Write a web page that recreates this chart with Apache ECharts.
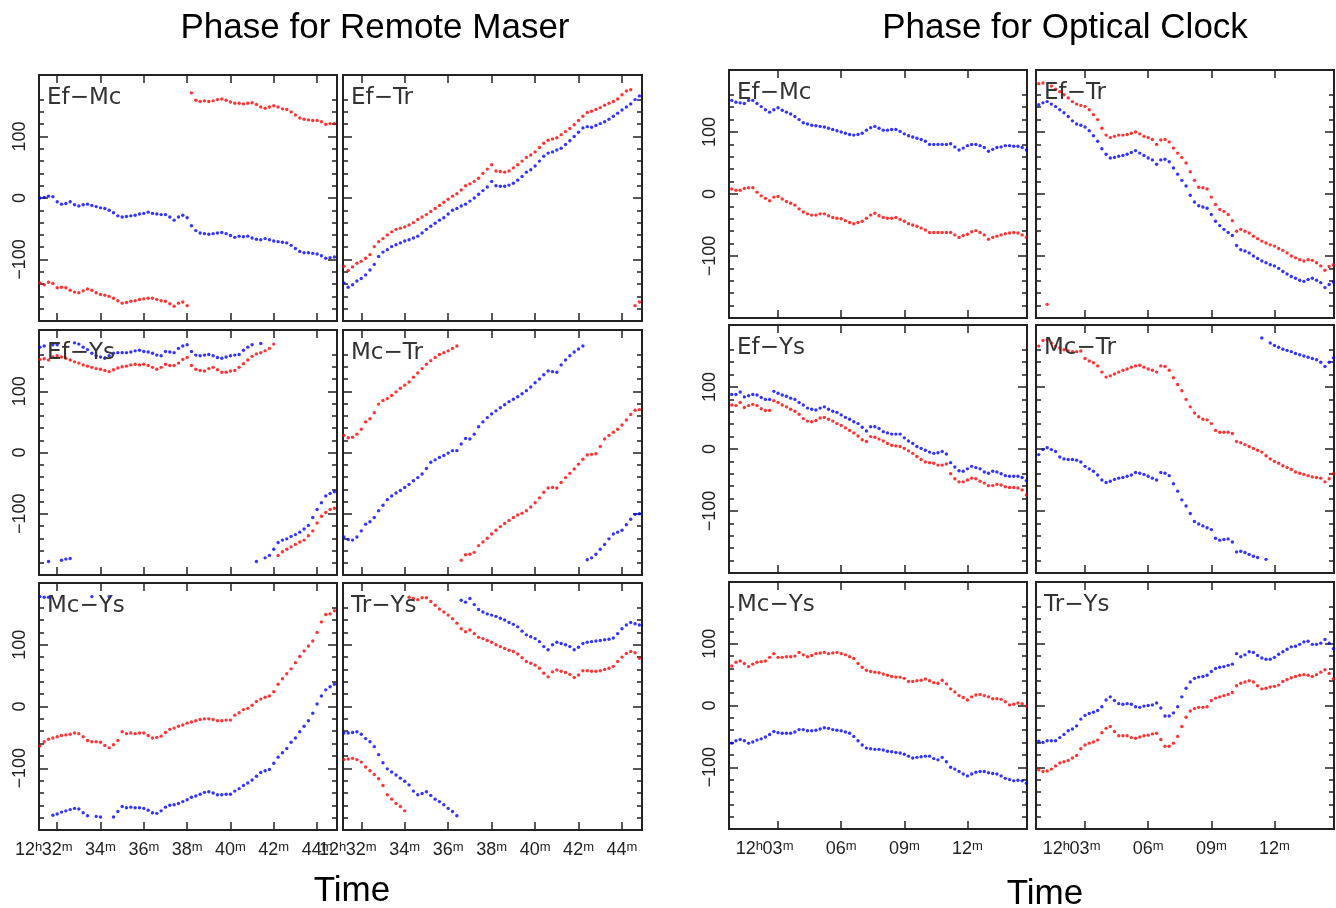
<!DOCTYPE html>
<html><head><meta charset="utf-8">
<script src="https://cdn.jsdelivr.net/npm/echarts@6/dist/echarts.min.js"></script>
<style>html,body{margin:0;padding:0;background:#fff}#c{width:1336px;height:908px}</style>
</head><body><div id="c"></div>
<script>
// ---------- time samples (minutes after 12h) ----------
const TIME_MASER = [31.2,31.4,31.6,31.8,32.0,32.2,32.4,32.6,32.8,33.0,33.2,33.4,33.6,33.8,34.0,
 34.2,34.4,34.6,34.8,35.0,35.2,35.4,35.6,35.8,36.0,36.2,36.4,36.6,36.8,37.0,
 37.2,37.4,37.6,37.8,38.0,38.2,38.4,38.6,38.8,39.0,39.2,39.4,39.6,39.8,40.0,
 40.2,40.4,40.6,40.8,41.0,41.2,41.4,41.6,41.8,42.0,42.2,42.4,42.6,42.8,43.0,
 43.2,43.4,43.6,43.8,44.0,44.2,44.4,44.6,44.8];
const TIME_CLOCK = [0.8,1.0,1.2,1.4,1.6,1.8,2.0,2.2,2.4,2.6,2.8,3.0,3.2,3.4,3.6,
 3.8,4.0,4.2,4.4,4.6,4.8,5.0,5.2,5.4,5.6,5.8,6.0,6.2,6.4,6.6,
 6.8,7.0,7.2,7.4,7.6,7.8,8.0,8.2,8.4,8.6,8.8,9.0,9.2,9.4,9.6,
 9.8,10.0,10.2,10.4,10.6,10.8,11.0,11.2,11.4,11.6,11.8,12.0,12.2,12.4,12.6,
 12.8,13.0,13.2,13.4,13.6,13.8,14.0,14.2,14.4,14.6,14.8];

// ---------- tick values ----------
const TICKS_MASER = [32,34,36,38,40,42,44];
const TICKS_CLOCK = [3,6,9,12];
const Y_MAJOR = [-100,0,100];
const Y_MINOR = [-180,-160,-140,-120,-80,-60,-40,-20,20,40,60,80,120,140,160];

// ---------- Phase for Remote Maser (degrees) ----------
const maserEfMcRed = [-138,-141,-137,-139,-146,-145,-146,-150,-153,-154,-151,-148,-150,-154,-157,
 -158,-160,-163,-167,-171,-170,-168,-167,-165,-164,-163,-163,-165,-167,-168,
 -172,-176,-171,-169,-175,171,159,157,158,157,158,160,161,159,156,
 154,154,153,154,155,152,148,146,148,150,148,145,144,140,135,
 130,128,127,126,126,124,120,121,121];
const maserEfMcBlue = [0,1,3,2,-6,-10,-9,-6,-11,-13,-11,-10,-12,-14,-16,
 -17,-20,-24,-29,-31,-30,-29,-28,-26,-25,-23,-25,-26,-27,-27,
 -31,-36,-31,-28,-32,-45,-53,-57,-58,-59,-58,-57,-56,-58,-61,
 -64,-62,-63,-62,-65,-67,-68,-66,-68,-70,-71,-72,-73,-77,-82,
 -87,-89,-89,-90,-91,-94,-98,-97,-96];
const maserEfTrRed = [-111,-118,-112,-106,-103,-98,-92,-79,-71,-66,-60,-55,-51,-49,-47,
 -44,-40,-35,-31,-27,-22,-17,-12,-7,-2,3,7,13,20,23,
 27,32,40,47,54,44,43,42,44,49,54,60,66,70,75,
 82,89,94,96,98,103,108,113,119,126,133,139,141,144,147,
 151,154,157,161,168,174,176,-175,-169];
const maserEfTrBlue = [-138,-145,-141,-135,-131,-125,-117,-108,-95,-88,-84,-79,-76,-73,-70,
 -68,-65,-62,-57,-51,-46,-41,-36,-32,-26,-20,-17,-13,-10,-5,
 0,6,12,18,27,20,19,19,21,24,29,35,42,46,52,
 60,68,73,75,78,81,87,93,100,107,114,116,115,118,121,
 124,128,133,138,143,148,153,160,166];
const maserEfYsRed = [152,153,151,156,158,156,154,151,148,146,143,141,139,137,136,
 134,132,135,138,140,141,143,144,143,144,142,139,136,139,144,
 142,142,146,152,155,142,136,134,133,137,139,135,131,131,133,
 134,139,145,151,157,161,163,166,170,177,-168,-162,-158,-154,-150,
 -146,-143,-136,-128,-115,-104,-98,-93,-91];
const maserEfYsBlue = [172,174,-178,176,176,-176,-174,-173,179,177,172,168,162,158,156,
 154,158,162,163,163,163,164,166,167,165,164,162,159,158,165,
 164,163,170,174,176,165,159,158,159,160,158,155,154,156,158,
 159,160,167,172,176,-178,178,-172,-168,-158,-147,-143,-141,-137,-134,
 -130,-125,-119,-106,-93,-82,-71,-67,-64];
const maserMcTrRed = [28,24,25,30,38,50,55,65,79,85,88,93,99,105,110,
 115,123,130,137,144,150,155,160,163,166,170,174,-176,-167,-166,
 -163,-152,-146,-140,-133,-127,-121,-116,-111,-106,-102,-99,-95,-89,-82,
 -74,-65,-58,-57,-58,-49,-41,-34,-27,-19,-11,-4,-3,-2,10,
 22,28,33,38,45,53,62,69,70];
const maserMcTrBlue = [-138,-142,-143,-138,-128,-117,-113,-106,-95,-86,-77,-71,-66,-62,-57,
 -52,-46,-41,-35,-26,-16,-12,-8,-5,-1,3,3,14,23,22,
 30,42,50,57,63,68,73,78,83,87,91,96,101,107,114,
 120,127,133,132,131,143,151,158,164,169,174,-175,-172,-166,-158,
 -150,-141,-133,-130,-127,-118,-109,-101,-100];
const maserMcYsRed = [-64,-57,-53,-51,-49,-47,-46,-45,-43,-44,-49,-55,-57,-57,-58,
 -63,-67,-62,-55,-41,-44,-43,-44,-43,-43,-47,-51,-50,-48,-42,
 -37,-35,-32,-30,-27,-25,-23,-21,-20,-20,-21,-23,-23,-22,-22,
 -14,-10,-5,-3,2,8,12,15,17,24,36,45,53,61,71,
 81,90,98,106,120,137,149,150,155];
const maserMcYsBlue = [178,177,177,-176,-174,-171,-169,-167,-165,-166,-172,-177,178,-178,-179,
 null,178,-179,-170,-162,-164,-163,-164,-164,-165,-168,-172,-173,-169,-163,
 -160,-159,-157,-154,-151,-147,-145,-142,-139,-138,-140,-143,-143,-142,-142,
 -137,-133,-128,-124,-119,-113,-107,-104,-102,-92,-82,-75,-68,-58,-51,
 -41,-32,-23,-11,4,17,27,32,36];
const maserTrYsRed = [-86,-85,-84,-86,-90,-98,-104,-110,-117,-128,-143,-150,-157,-162,-169,
 177,175,173,176,176,170,164,158,153,148,142,135,126,121,124,
 118,112,110,107,104,100,97,94,91,89,85,79,73,70,67,
 62,54,48,56,59,57,55,52,47,51,58,58,57,57,58,
 60,62,65,73,80,86,89,87,78];
const maserTrYsBlue = [-43,-43,-42,-41,-45,-52,-57,-65,-78,-91,-101,-106,-111,-116,-121,
 -127,-137,-143,-141,-138,-144,-150,-154,-159,-165,-170,-177,172,169,175,
 165,157,153,150,148,146,143,140,136,133,129,122,116,113,110,
 105,97,92,100,104,102,100,97,92,96,102,104,105,106,107,
 108,109,111,118,126,132,136,134,132];

// ---------- Phase for Optical Clock (degrees) ----------
const clockEfMcRed = [8,6,6,9,10,10,3,-3,-7,-11,-5,-4,-8,-12,-15,
 -18,-24,-29,-32,-34,-34,-32,-32,-35,-38,-39,-40,-43,-46,-48,
 -46,-44,-39,-34,-31,-35,-38,-39,-39,-38,-41,-44,-48,-50,-52,
 -55,-58,-62,-62,-62,-62,-62,-62,-66,-70,-67,-65,-61,-59,-62,
 -66,-73,-70,-68,-66,-64,-63,-62,-63,-66,-70];
const clockEfMcBlue = [151,148,147,146,151,151,146,141,136,132,136,139,135,132,129,
 125,120,115,113,111,110,109,108,106,104,102,100,98,96,95,
 96,98,103,107,109,106,103,103,104,104,101,97,94,92,90,
 88,85,80,80,80,80,80,81,76,71,74,78,80,80,78,
 75,69,72,75,76,78,78,77,77,75,71];
const clockEfTrRed = [178,179,-178,174,169,165,160,155,149,145,143,141,136,128,120,
 106,95,91,93,95,95,96,98,100,97,93,91,88,80,87,
 88,84,74,66,59,50,36,22,11,10,8,-5,-17,-25,-28,
 -33,-43,-60,-57,-60,-63,-68,-72,-76,-79,-82,-84,-88,-91,-95,
 -100,-103,-106,-108,-106,-107,-111,-116,-123,-117,-114];
const clockEfTrBlue = [144,147,149,145,141,136,131,125,118,113,111,108,102,94,85,
 73,64,58,59,61,62,64,67,70,66,62,58,55,48,55,
 56,52,42,32,22,13,-2,-13,-19,-21,-23,-33,-44,-51,-57,
 -62,-67,-83,-90,-92,-95,-100,-104,-108,-111,-114,-116,-120,-125,-129,
 -133,-136,-139,-141,-138,-136,-139,-143,-151,-146,-142];
const clockEfYsRed = [71,70,75,67,70,72,70,65,62,62,78,75,71,68,64,
 61,56,49,45,44,46,50,51,48,45,41,38,34,30,26,
 21,15,12,20,19,16,13,9,6,5,4,1,-3,-7,-12,
 -17,-21,-22,-23,-26,-26,-24,-40,-48,-53,-53,-50,-47,-48,-52,
 -55,-59,-59,-57,-58,-61,-62,-62,-63,-66,-74];
const clockEfYsBlue = [88,88,92,84,86,88,87,83,80,80,93,90,87,85,82,
 80,75,71,66,64,63,66,68,64,61,59,55,51,48,44,
 41,35,29,36,36,33,28,26,24,24,24,18,13,9,4,
 1,-2,-5,-7,-6,-4,-8,-22,-29,-35,-36,-32,-28,-30,-32,
 -37,-39,-36,-37,-40,-43,-44,-44,-44,-46,-51];
const clockMcTrRed = [166,175,176,171,166,163,160,158,157,157,158,146,142,139,134,
 124,116,118,121,124,127,129,132,134,135,132,129,127,124,134,
 133,127,115,104,94,80,68,58,52,48,47,41,30,27,27,
 27,25,12,10,7,4,1,-2,-5,-11,-16,-20,-23,-27,-30,
 -33,-37,-39,-41,-43,-45,-46,-47,-53,-48,-40];
const clockMcTrBlue = [-9,-1,2,-1,-4,-13,-16,-17,-17,-18,-21,-28,-32,-36,-42,
 -50,-54,-52,-49,-47,-46,-44,-42,-38,-39,-41,-44,-47,-50,-38,
 -39,-43,-56,-68,-82,-92,-104,-117,-121,-124,-127,-130,-144,-147,-146,
 -145,-150,-166,-165,-167,-170,-173,-175,179,-178,171,167,164,161,159,
 157,154,152,150,148,146,144,140,133,140,147];
const clockMcYsRed = [64,70,72,68,63,67,70,71,72,78,84,78,78,79,79,
 80,86,82,79,81,84,85,86,84,85,86,84,82,79,76,
 68,62,57,55,54,53,51,49,47,46,46,44,39,39,40,
 41,43,40,37,36,41,35,27,22,16,13,9,14,17,18,
 16,14,11,11,10,6,1,2,4,3,-1];
const clockMcYsBlue = [-61,-57,-55,-57,-61,-59,-56,-54,-51,-47,-42,-44,-45,-45,-45,
 -43,-39,-39,-41,-41,-40,-38,-36,-37,-39,-40,-41,-43,-45,-50,
 -57,-64,-69,-70,-71,-71,-72,-74,-75,-76,-77,-79,-82,-85,-84,
 -83,-82,-82,-86,-88,-84,-91,-100,-103,-107,-111,-114,-111,-108,-107,
 -107,-109,-110,-111,-114,-118,-120,-122,-121,-122,-126];
const clockTrYsRed = [-104,-107,-106,-103,-98,-93,-91,-89,-85,-81,-70,-64,-61,-59,-56,
 -44,-37,-34,-42,-49,-49,-49,-52,-53,-51,-49,-48,-46,-45,-55,
 -66,-66,-61,-50,-34,-19,-9,-5,-3,-3,-2,8,12,14,16,
 18,21,32,36,38,40,38,32,27,28,30,31,33,39,42,
 45,47,49,50,49,47,50,54,58,52,43];
const clockTrYsBlue = [-58,-60,-57,-57,-57,-52,-47,-41,-38,-33,-22,-16,-13,-11,-8,
 -2,9,14,8,3,2,3,2,-2,-3,-1,0,1,4,-4,
 -17,-17,-12,-2,14,28,38,44,46,47,49,55,60,62,63,
 65,67,84,79,82,87,86,81,77,75,75,78,83,87,91,
 95,96,99,103,104,99,99,101,107,101,92];

// ---------- layout ----------
const LAYOUT = {
  maser: {lefts:[39,343], widths:[298,299], tops:[75,330,583], heights:[246,245,247],
          xmin:31.16, xmax:44.92, times:TIME_MASER, ticks:TICKS_MASER, first:32},
  clock: {lefts:[729,1036], widths:[298,298], tops:[70,325,582], heights:[248,248,247],
          xmin:0.67, xmax:14.83, times:TIME_CLOCK, ticks:TICKS_CLOCK, first:3}
};
const PANELS = [
  {g:'maser',r:0,c:0,name:'Ef\u2212Mc',red:maserEfMcRed,blue:maserEfMcBlue},
  {g:'maser',r:0,c:1,name:'Ef\u2212Tr',red:maserEfTrRed,blue:maserEfTrBlue},
  {g:'maser',r:1,c:0,name:'Ef\u2212Ys',red:maserEfYsRed,blue:maserEfYsBlue},
  {g:'maser',r:1,c:1,name:'Mc\u2212Tr',red:maserMcTrRed,blue:maserMcTrBlue},
  {g:'maser',r:2,c:0,name:'Mc\u2212Ys',red:maserMcYsRed,blue:maserMcYsBlue},
  {g:'maser',r:2,c:1,name:'Tr\u2212Ys',red:maserTrYsRed,blue:maserTrYsBlue},
  {g:'clock',r:0,c:0,name:'Ef\u2212Mc',red:clockEfMcRed,blue:clockEfMcBlue},
  {g:'clock',r:0,c:1,name:'Ef\u2212Tr',red:clockEfTrRed,blue:clockEfTrBlue},
  {g:'clock',r:1,c:0,name:'Ef\u2212Ys',red:clockEfYsRed,blue:clockEfYsBlue},
  {g:'clock',r:1,c:1,name:'Mc\u2212Tr',red:clockMcTrRed,blue:clockMcTrBlue},
  {g:'clock',r:2,c:0,name:'Mc\u2212Ys',red:clockMcYsRed,blue:clockMcYsBlue},
  {g:'clock',r:2,c:1,name:'Tr\u2212Ys',red:clockTrYsRed,blue:clockTrYsBlue}
];

const INK = '#222';
const TICKFONT = '"Liberation Sans", Arial, sans-serif';
const pad2 = v => (v < 10 ? '0' : '') + v;
const rich = {s: {fontSize: 13, verticalAlign: 'top', fontFamily: TICKFONT, color: INK}};
const labelBase = {margin: 11, color: INK, fontSize: 18, fontFamily: TICKFONT, rich: rich,
  hideOverlap: false, showMinLabel: true, showMaxLabel: true};

const grid = [], xAxis = [], yAxis = [], series = [], graphic = [];
PANELS.forEach((p, k) => {
  const L = LAYOUT[p.g];
  const left = L.lefts[p.c], top = L.tops[p.r], w = L.widths[p.c], h = L.heights[p.r];
  grid.push({left: left, top: top, width: w, height: h, show: true,
    borderColor: INK, borderWidth: 2, backgroundColor: 'rgba(0,0,0,0)'});
  const xi = xAxis.length;
  const bottomRow = p.r === 2;
  ['bottom', 'top'].forEach(pos => {
    xAxis.push({gridIndex: k, type: 'value', min: L.xmin, max: L.xmax, position: pos,
      axisLine: {show: false, onZero: false}, splitLine: {show: false},
      axisTick: {show: true, inside: true, length: 8, customValues: L.ticks,
        lineStyle: {color: INK, width: 1.5}},
      axisLabel: Object.assign({}, labelBase, {show: pos === 'bottom' && bottomRow,
        customValues: L.ticks, formatter: v => pad2(v) + '{s|m}'})});
  });
  if (bottomRow) {
    // hour prefix "12h" placed just before the first minute label
    xAxis.push({gridIndex: k, type: 'value', min: L.xmin, max: L.xmax, position: 'bottom',
      axisLine: {show: false, onZero: false}, splitLine: {show: false},
      axisTick: {show: false},
      axisLabel: Object.assign({}, labelBase, {show: true, customValues: [L.first],
        align: 'right', padding: [0, 15, 0, 0], formatter: () => '12{s|h}'})});
  }
  const yi = yAxis.length;
  ['left', 'right'].forEach(pos => {
    yAxis.push({gridIndex: k, type: 'value', min: -200, max: 200, position: pos,
      axisLine: {show: false, onZero: false}, splitLine: {show: false},
      axisTick: {show: true, inside: true, length: 5, customValues: Y_MINOR,
        lineStyle: {color: INK, width: 1.5}},
      axisLabel: {show: false}});
    yAxis.push({gridIndex: k, type: 'value', min: -200, max: 200, position: pos,
      axisLine: {show: false, onZero: false}, splitLine: {show: false},
      axisTick: {show: true, inside: true, length: 9, customValues: Y_MAJOR,
        lineStyle: {color: INK, width: 1.5}},
      axisLabel: {show: pos === 'left' && p.c === 0, customValues: Y_MAJOR, rotate: 90,
        hideOverlap: false, showMinLabel: true, showMaxLabel: true,
        margin: 10, color: INK, fontSize: 18, fontFamily: TICKFONT,
        formatter: v => (v < 0 ? '\u2212' + Math.abs(v) : String(v))}});
  });
  const toPts = arr => L.times.map((t, i) => arr[i] == null ? null : [t, arr[i]]).filter(Boolean);
  [['#ff0000', p.red], ['#0000ff', p.blue]].forEach(([col, arr]) => {
    series.push({type: 'scatter', xAxisIndex: xi, yAxisIndex: yi, data: toPts(arr),
      symbol: 'circle', symbolSize: 3.4, itemStyle: {color: col}, silent: true, clip: true});
  });
  graphic.push({type: 'text', x: left + 8, y: top + 12, z: 10,
    style: {text: p.name, fontSize: 23, fontFamily: '"DejaVu Sans", sans-serif', fill: '#333',
      textVerticalAlign: 'top'}});
});

const TFONT = '"Liberation Sans", Arial, sans-serif';
graphic.push({type: 'text', x: 375, y: 28, style: {text: 'Phase for Remote Maser', fontSize: 35,
  fontFamily: TFONT, fill: '#000', textAlign: 'center', textVerticalAlign: 'middle'}});
graphic.push({type: 'text', x: 1065, y: 28, style: {text: 'Phase for Optical Clock', fontSize: 35,
  fontFamily: TFONT, fill: '#000', textAlign: 'center', textVerticalAlign: 'middle'}});
graphic.push({type: 'text', x: 352, y: 891, style: {text: 'Time', fontSize: 35,
  fontFamily: TFONT, fill: '#000', textAlign: 'center', textVerticalAlign: 'middle'}});
graphic.push({type: 'text', x: 1045, y: 894, style: {text: 'Time', fontSize: 35,
  fontFamily: TFONT, fill: '#000', textAlign: 'center', textVerticalAlign: 'middle'}});

const chart = echarts.init(document.getElementById('c'), null, {renderer: 'canvas'});
chart.setOption({animation: false, backgroundColor: '#fff', grid, xAxis, yAxis, series, graphic});
</script>
</body></html>
